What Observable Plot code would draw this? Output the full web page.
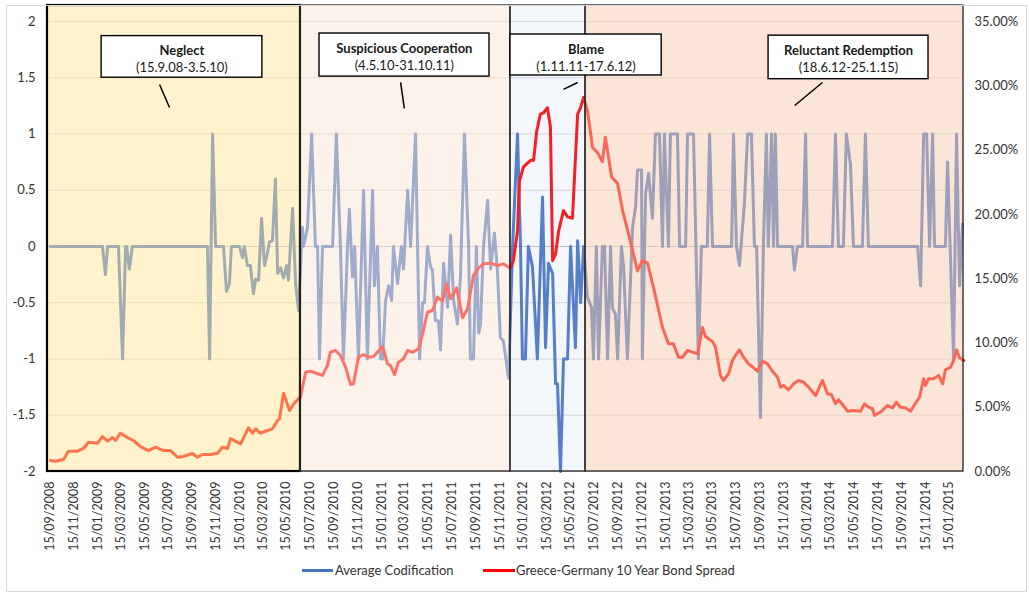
<!DOCTYPE html>
<html>
<head>
<meta charset="utf-8">
<script src="https://cdn.jsdelivr.net/npm/d3@7"></script>
<script src="https://cdn.jsdelivr.net/npm/@observablehq/plot@0.6"></script>
<style>
  body { margin: 0; background: #fff; font-family: Lato, "Noto Sans", sans-serif; }
  #wrap { position: relative; width: 1029px; height: 593px; overflow: hidden; }
  #frame { position: absolute; left: 6px; top: 5px; width: 1021px; height: 587px; border: 1px solid #d9d9d9; box-sizing: border-box; pointer-events: none; }
  #chart { position: absolute; left: 0; top: 0; }
  .lg-line { position: absolute; height: 3px; top: 569px; }
  .lg-text { position: absolute; top: 562px; font-size: 13px; color: #333; white-space: nowrap; line-height: 16px; }
</style>
</head>
<body>
<div id="wrap">
  <div id="chart"></div>
  <div id="frame"></div>
  <div class="lg-line" style="left:302px;width:31px;background:#4472C4"></div>
  <div class="lg-text" style="left:335px">Average Codification</div>
  <div class="lg-line" style="left:483px;width:32px;background:#FF0000"></div>
  <div class="lg-text" style="left:516px">Greece-Germany 10 Year Bond Spread</div>
</div>
<script>
// ---------- DATA ----------
// weekly series, x = weeks after 15/09/2008
const seriesStart = "15/09/2008";

// Average Codification (left axis): [week, value]
const codification = [
  [0,0],[19.1,0],[20.2,-0.25],[21,0],[25,0],[26.5,-1],[27.6,0],[28,0],[29,-0.2],[30.1,0],
  [57.7,0],[58.5,-1],[59.6,1],[60.7,0],[63.6,0],[64.7,-0.4],[65.8,-0.33],[66.5,0],[69.5,0],
  [70.6,-0.1],[71.3,0],[72.4,-0.17],[73.5,-0.17],[74.6,-0.42],[75.4,-0.29],[76.5,-0.3],
  [77.6,0.25],[78.7,-0.17],[79.8,-0.05],[80.5,0.04],[81.6,0.05],[82.7,0.6],[83.5,-0.24],
  [84.6,-0.19],[85.7,-0.28],[86.8,-0.17],[87.5,-0.3],[89,0.34],[90.1,-0.33],[91.2,-0.57],
  [92.6,0.17],[93,0],[94.5,0.17],[96,1],[97.4,0],[98.2,0],[98.9,-1],[100,0],[103.7,0],
  [105.1,1],[106.6,0],[107.7,-1],[109.2,0],[109.9,0.33],[111,-0.27],[111.8,0],[113.2,-1],
  [115.1,0.5],[116.5,-1],[118.4,0.5],[119.1,-0.35],[120.2,0],[121.3,-1],[122.1,-1],
  [123.2,-0.48],[124.3,-0.35],[125.4,-0.48],[126.1,0],[127.6,-0.33],[129,0],[129.8,-0.2],
  [131.3,0.5],[132.4,0],[134.2,1],[135.7,-1],[136.8,-0.5],[137.5,-0.5],[138.6,0],
  [139.7,-0.18],[140.4,-0.21],[141.5,-0.66],[142.6,-0.66],[143.4,-0.92],[144.5,-0.15],
  [146,-0.54],[147.1,0.1],[148.2,-0.48],[149.6,-0.69],[150.7,-0.28],[152.2,1],[153.7,0],
  [154.4,-1],[155.5,-1],[156.6,0],[157.4,-0.77],[158.1,-0.69],[159.2,0],[160.7,0.41],
  [161.8,-0.2],[163.2,0.12],[164.3,-0.21],[165.4,-0.81],[166.5,-0.84],[168.4,-1.17],
  [169.9,0],[171.7,1],[172.8,0],[173.5,-1],[174.6,-1],[175.7,0],[177.2,-0.18],[179,-1],
  [180.9,0.44],[182,-0.9],[183.1,-0.15],[184.6,-0.24],[185.7,-1.22],[186.4,-1.22],
  [187.5,-2],[188.6,-1],[190.1,-1],[191.2,0],[193,-0.9],[193.8,0.05],[194.9,-0.5],[196,0],
  [197.4,-0.45],[198.9,-0.54],[199.6,-1],[200.7,0],[201.5,-1],[202.9,0],[203.7,0],
  [204.8,-1],[205.9,0],[206.6,-0.55],[207.7,-0.6],[208.5,-1],[209.9,0],[210.7,-0.18],
  [212.1,-1],[214,0.17],[215.1,0.35],[215.8,0.68],[217.3,0.68],[217.6,-1],[218.8,0.47],
  [219.9,0.65],[221.3,0.25],[222.4,1],[223.9,1],[225,0],[225.7,1],[227.2,0],[227.9,1],
  [230.5,1],[231.3,0],[233.5,0],[234.2,1],[236.4,1],[237.3,0],[238.2,-1],[239.3,0],
  [241.5,0],[242.3,1],[243.4,0],[250.4,0],[251.1,1],[252.2,0],[253.3,-0.17],[255.1,0.38],
  [256.3,1],[257.7,1],[258.8,0],[259.6,0],[261,-1.52],[262.1,0],[263.2,1],[263.9,0],
  [265.1,1],[265.8,0],[266.5,1],[267.3,0],[272.8,0],[273.5,-0.21],[274.6,0],[276.5,0],
  [277.6,1],[278.3,0],[287.5,0],[288.6,1],[289.7,0],[291.5,0],[292.6,1],[294.1,0.73],
  [295.2,0],[298.5,0],[299.6,1],[300.7,0],[318.8,0],[319.9,-0.35],[321,1],[322.1,1],
  [323.2,0],[324.3,1],[325,0],[329,0],[329.8,0.75],[332,-1],[333.1,1],[334.2,-0.35],[335.3,0.2]
];

// Greece-Germany 10 Year Bond Spread (right axis, %): [week, percent]
const bondSpread = [
  [0,0.86],[1.8,0.80],[4.8,0.93],[6.6,1.58],[9.9,1.58],[12.1,1.79],[14,2.28],[17.3,2.2],
  [19.1,2.72],[21,2.36],[22.8,2.64],[23.9,2.41],[25.7,2.98],[28.3,2.64],[30.5,2.41],
  [33.1,1.94],[36,1.63],[38.6,1.89],[41.5,1.63],[44.1,1.63],[46.7,1.11],[48.9,1.17],
  [52.2,1.4],[54,1.11],[55.9,1.32],[58.8,1.32],[61.4,1.42],[63.2,1.89],[65.1,1.79],
  [66.2,2.57],[68,2.36],[69.9,2.15],[72.8,3.4],[74.3,2.98],[75.4,3.32],[77.2,2.98],
  [79.8,3.19],[81.6,3.32],[83.5,3.97],[84.2,4.1],[85.7,6.09],[87.9,4.74],[89.3,5.21],
  [91.2,5.68],[91.9,5.78],[93.8,7.72],[95.6,7.8],[98.2,7.6],[100,7.47],[101.8,8.24],
  [102.9,9.28],[104.8,9.41],[106.6,9.02],[108.5,8.11],[110.3,6.77],[111.4,6.82],
  [113.2,8.89],[115.1,9.1],[116.9,8.89],[118.8,8.94],[122.1,9.72],[123.9,8.38],[125,8.24],
  [126.5,7.54],[127.9,8.5],[129.8,8.77],[131.3,9.41],[133.1,9.28],[135.3,9.54],
  [136.8,10.71],[138.6,12.39],[140.4,12.52],[142.3,13.56],[144.1,13.25],[145.6,14.6],
  [147.1,13.43],[149.3,14.29],[151.5,11.95],[153.3,12.65],[155.5,15.24],[157.4,15.84],
  [159.2,16.15],[161.8,16.2],[164.3,16.02],[166.5,16.15],[168.4,15.89],[169.1,15.8],
  [170.2,16.4],[171.7,18.7],[172.4,22.6],[173.9,23.7],[176.5,24.2],[177.6,24.2],
  [178.7,26.4],[180.1,27.8],[181.3,27.9],[182.7,28.3],[183.8,26.8],[184.6,16.4],
  [185.7,16.9],[186.8,18.7],[188.6,20.3],[190.1,19.8],[191.9,19.7],[193.8,27.8],
  [194.9,28.3],[196,29.1],[197.4,28.1],[199.3,25.2],[201.1,24.8],[202.9,24.1],[204,26],
  [206.3,22.9],[208.5,22.4],[210.3,20.3],[212.5,18.5],[215.8,15.6],[217.6,16.4],
  [219.5,16.2],[221.7,14.3],[225,11.2],[227.2,9.93],[229,9.93],[230.9,8.89],[232.4,8.89],
  [234.2,9.41],[236,9.28],[237.9,9.15],[239.7,11.2],[240.8,10.5],[243.4,10.1],[244.5,9.67],
  [246.3,7.47],[247.4,7.08],[249.3,7.6],[250.7,8.63],[251.8,9.02],[253.3,9.46],[254.8,8.89],
  [256.6,8.38],[258.5,8.07],[259.9,7.8],[261.8,8.58],[263.6,8.38],[265.4,7.8],[267.3,7.33],
  [268.4,6.56],[269.5,6.69],[271.3,6.35],[273.2,6.82],[275,7.08],[276.8,6.95],[278.7,6.56],
  [281.3,5.91],[283.8,7.08],[285.7,6.04],[287.1,5.99],[288.6,5.27],[289.7,5.58],[291.2,5.21],
  [293,4.69],[295.2,4.74],[297.8,4.69],[299.3,5.27],[300.7,5.0],[302.2,4.88],[302.9,4.36],
  [305.1,4.61],[307.7,5.13],[309.6,4.95],[311,5.39],[312.5,5.0],[314.3,4.95],[316.2,4.69],
  [318,5.31],[319.5,5.78],[321,7.21],[321.7,6.69],[322.8,7.21],[324.6,7.21],[326.5,7.47],
  [328,6.82],[329,7.91],[330.9,8.11],[332,8.63],[333.1,9.46],[334.2,8.84],[335.7,8.63]
];

// periods
const periodNames  = ["Neglect", "Suspicious Cooperation", "Blame", "Reluctant Redemption"];
const periodRanges = ["(15.9.08-3.5.10)", "(4.5.10-31.10.11)", "(1.11.11-17.6.12)", "(18.6.12-25.1.15)"];
const periodStartWeek = [-1.1, 91.9, 169.1, 196.7];
const periodEndWeek   = [91.9, 169.1, 196.7, 335.66];

// tick labels
const xTickLabels = [
  "15/09/2008","15/11/2008",
  "15/01/2009","15/03/2009","15/05/2009","15/07/2009","15/09/2009","15/11/2009",
  "15/01/2010","15/03/2010","15/05/2010","15/07/2010","15/09/2010","15/11/2010",
  "15/01/2011","15/03/2011","15/05/2011","15/07/2011","15/09/2011","15/11/2011",
  "15/01/2012","15/03/2012","15/05/2012","15/07/2012","15/09/2012","15/11/2012",
  "15/01/2013","15/03/2013","15/05/2013","15/07/2013","15/09/2013","15/11/2013",
  "15/01/2014","15/03/2014","15/05/2014","15/07/2014","15/09/2014","15/11/2014",
  "15/01/2015"
];
const leftTicks  = [-2, -1.5, -1, -0.5, 0, 0.5, 1, 1.5, 2];
const rightTicks = [0, 5, 10, 15, 20, 25, 30, 35];

// ---------- STYLE / LAYOUT ----------
const periodFill    = ["#FFE699", "#FBE5D6", "#B4C7E7", "#F8CBAD"];
const periodOpacity = [0.5, 0.5, 0.16, 0.5];
const periodStroke  = ["#000000", "#303030", "#303030", "#303030"];
const periodStrokeW = [2.2, 1.4, 1.4, 1.4];
// annotation boxes in (week, left-axis value) units
const boxLayout = [
  {x1: 18.8,  x2: 77.9,  y1: 1.50,  y2: 1.87,  cx: 48.3,  ty: 1.735, sy: 1.585, l: [40.1, 1.44, 43.75, 1.236]},
  {x1: 98.9,  x2: 161.4, y1: 1.51,  y2: 1.893, cx: 130.1, ty: 1.76,  sy: 1.609, l: [128.7, 1.458, 130.1, 1.227]},
  {x1: 169.1, x2: 224.7, y1: 1.52,  y2: 1.884, cx: 196.9, ty: 1.751, sy: 1.60,  l: [188.6, 1.396, 193.8, 1.458]},
  {x1: 264.0, x2: 322.8, y1: 1.487, y2: 1.874, cx: 293.4, ty: 1.742, sy: 1.591, l: [283.8, 1.458, 273.6, 1.253]}
];

// ---------- BUILD ----------
const parseDMY = d3.utcParse("%d/%m/%Y");
const fmtDMY = d3.utcFormat("%d/%m/%Y");
const t0 = parseDMY(seriesStart).getTime();
const wk = w => new Date(t0 + w * 7 * 864e5);
const pctToLeft = p => -2 + p * 4 / 35;
const leftToPct = v => (v + 2) * 35 / 4;
const yTop = 2.142;

const codData = codification.map(([w, v]) => ({date: wk(w), value: v}));
const spreadData = bondSpread.map(([w, p]) => ({date: wk(w), value: pctToLeft(p)}));
const periods = periodNames.map((name, i) => ({
  name, range: periodRanges[i],
  start: wk(periodStartWeek[i]), end: wk(periodEndWeek[i]),
  fill: periodFill[i], op: periodOpacity[i], stroke: periodStroke[i], sw: periodStrokeW[i]
}));
const boxes = boxLayout.map((b, i) => ({
  ...b, name: periodNames[i], range: periodRanges[i],
  d1: wk(b.x1), d2: wk(b.x2), dc: wk(b.cx), la: wk(b.l[0]), lb: wk(b.l[2])
}));
const xTicks = xTickLabels.map(parseDMY);

const chart = Plot.plot({
  width: 1029,
  height: 555,
  marginLeft: 47,
  marginRight: 66,
  marginTop: 5,
  marginBottom: 84,
  style: {fontFamily: "Lato, 'Noto Sans', sans-serif", fontSize: "12px", color: "#333", background: "transparent"},
  x: {type: "utc", domain: [wk(periodStartWeek[0]), wk(periodEndWeek[3])], label: null},
  y: {domain: [-2, yTop], label: null},
  marks: [
    Plot.ruleY(leftTicks.filter(d => d !== 0), {stroke: "#d9d9d9", strokeWidth: 1}),
    Plot.ruleY([0], {stroke: "#bfbfbf", strokeWidth: 1.2}),
    Plot.line(codData, {x: "date", y: "value", stroke: "#4472C4", strokeWidth: 3, strokeLinejoin: "round", strokeLinecap: "round"}),
    Plot.line(spreadData, {x: "date", y: "value", stroke: "#FF0000", strokeWidth: 3, strokeLinejoin: "round", strokeLinecap: "round"}),
    Plot.rect(periods, {x1: "start", x2: "end", y1: -2, y2: yTop, fill: "fill", fillOpacity: "op"}),
    Plot.rect(periods, {x1: "start", x2: "end", y1: -2, y2: yTop, fill: "none", stroke: "stroke", strokeWidth: "sw"}),
    Plot.rect(boxes, {x1: "d1", x2: "d2", y1: "y1", y2: "y2", fill: "white", stroke: "#000", strokeWidth: 1.4}),
    Plot.text(boxes, {x: "dc", y: "ty", text: "name", fontWeight: "bold", fontSize: 13, fill: "#1a1a1a"}),
    Plot.text(boxes, {x: "dc", y: "sy", text: "range", fontSize: 13, fill: "#1a1a1a"}),
    Plot.link(boxes, {x1: "la", y1: d => d.l[1], x2: "lb", y2: d => d.l[3], stroke: "#000", strokeWidth: 1.5}),
    Plot.axisY({ticks: leftTicks, anchor: "left", tickSize: 0, tickPadding: 12, fontSize: 13, fill: "#333", tickFormat: d => String(d)}),
    Plot.axisY({ticks: rightTicks.map(pctToLeft), anchor: "right", tickSize: 0, tickPadding: 11, fontSize: 13, fill: "#333", tickFormat: v => leftToPct(v).toFixed(2) + "%"}),
    Plot.axisX({ticks: xTicks, anchor: "bottom", tickSize: 0, tickPadding: 10, tickRotate: -90, fontSize: 12.5, fill: "#333", tickFormat: fmtDMY})
  ]
});
document.getElementById("chart").appendChild(chart);
</script>
</body>
</html>
